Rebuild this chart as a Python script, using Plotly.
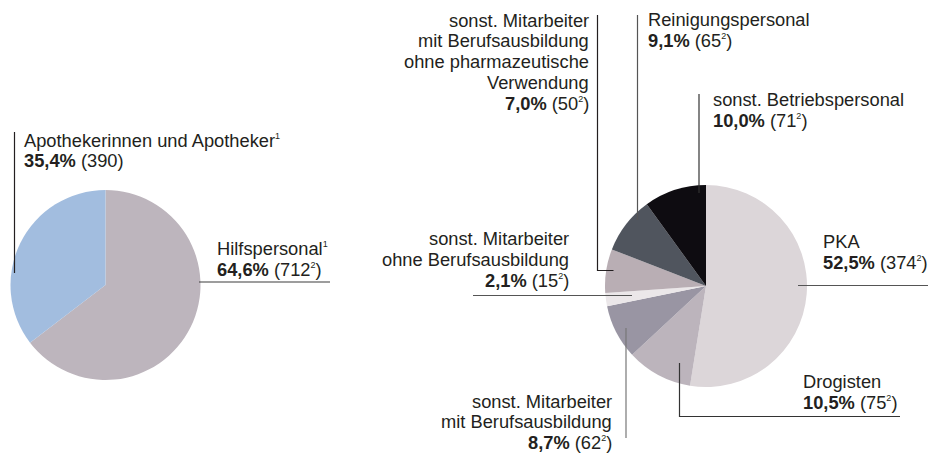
import plotly.graph_objects as go

W, H = 929, 453

# ---------------- data ----------------
left_labels = ["Hilfspersonal", "Apothekerinnen und Apotheker"]
left_values = [712, 390]
left_pct = ["64,6%", "35,4%"]
left_sup_label = ["1", "1"]
left_sup_count = ["2", ""]

right_labels = [
    "PKA",
    "Drogisten",
    "sonst. Mitarbeiter mit Berufsausbildung",
    "sonst. Mitarbeiter ohne Berufsausbildung",
    "sonst. Mitarbeiter mit Berufsausbildung ohne pharmazeutische Verwendung",
    "Reinigungspersonal",
    "sonst. Betriebspersonal",
]
right_values = [374, 75, 62, 15, 50, 65, 71]
right_pct = ["52,5%", "10,5%", "8,7%", "2,1%", "7,0%", "9,1%", "10,0%"]
right_label_lines = [
    ["PKA"],
    ["Drogisten"],
    ["sonst. Mitarbeiter", "mit Berufsausbildung"],
    ["sonst. Mitarbeiter", "ohne Berufsausbildung"],
    ["sonst. Mitarbeiter", "mit Berufsausbildung", "ohne pharmazeutische", "Verwendung"],
    ["Reinigungspersonal"],
    ["sonst. Betriebspersonal"],
]

# ---------------- styles ----------------
left_colors = ["#bdb5bd", "#a2bddf"]
right_colors = ["#dcd6d9", "#bcb4bc", "#9995a3", "#ebe7e9", "#b9aeb4", "#50555e", "#0e0c11"]
TXT = "#231f20"
FONT = "Liberation Sans, Arial, Helvetica, sans-serif"
FS = 18.3
LH = 20.8


def fx(x):
    return x / W


def fy(y):
    return 1 - y / H


def sup(s):
    return f"<sup><span style='font-size:9px'>{s}</span></sup>" if s else ""


fig = go.Figure()

fig.add_trace(go.Pie(
    labels=left_labels, values=left_values, sort=False, direction="clockwise",
    marker=dict(colors=left_colors, line=dict(width=0)), textinfo="none",
    domain=dict(x=[fx(10.5), fx(200.5)], y=[fy(380), fy(190)]),
    showlegend=False,
))
fig.add_trace(go.Pie(
    labels=right_labels, values=right_values, sort=False, direction="clockwise",
    marker=dict(colors=right_colors, line=dict(width=0)), textinfo="none",
    domain=dict(x=[fx(605), fx(807)], y=[fy(387), fy(185)]),
    showlegend=False,
))

annotations = []


def add_block(lines, x, first_baseline, align):
    for i, t in enumerate(lines):
        b = first_baseline + i * LH
        annotations.append(dict(
            text=t, x=fx(x), y=fy(b + 5), xref="paper", yref="paper",
            xanchor=align, yanchor="bottom", showarrow=False, align=align,
            font=dict(family=FONT, size=FS, color=TXT), borderpad=0,
        ))


def val_line(pct, count, s):
    return f"<b>{pct}</b> ({count}{sup(s)})"


# left pie labels
add_block([left_labels[1] + sup(left_sup_label[1]),
           val_line(left_pct[1], left_values[1], left_sup_count[1])], 22.5, 146.5, "left")
add_block([left_labels[0] + sup(left_sup_label[0]),
           val_line(left_pct[0], left_values[0], left_sup_count[0])], 216, 255, "left")

# right pie labels: (x, first baseline, align)
right_pos = [
    (821.5, 248.3, "left"),
    (801.5, 388.3, "left"),
    (612.5, 407.5, "right"),
    (569.5, 245.0, "right"),
    (590.0, 26.5, "right"),
    (646.5, 26.0, "left"),
    (711.5, 106.0, "left"),
]
for lines, pct, v, (x, b, al) in zip(right_label_lines, right_pct, right_values, right_pos):
    add_block(lines + [val_line(pct, v, "2")], x, b, al)

# leader lines (pixel coordinates)
leaders = [
    ([(14.5, 132), (14.5, 273)], "#231f20"),
    ([(199, 282), (330, 282)], "#3c3c3c"),
    ([(637.5, 15), (637.5, 220)], "#555555"),
    ([(699, 94), (699, 193)], "#333333"),
    ([(798, 285.5), (928, 285.5)], "#555555"),
    ([(679.5, 363), (679.5, 416.5), (900, 416.5)], "#333333"),
    ([(626, 328), (626, 438)], "#777777"),
    ([(473, 295.5), (632, 295.5)], "#555555"),
    ([(597.5, 15), (597.5, 270.5), (613.5, 270.5)], "#231f20"),
]
shapes = []
for pts, col in leaders:
    path = "M " + " L ".join(f"{fx(x)},{fy(y)}" for x, y in pts)
    shapes.append(dict(type="path", path=path, xref="paper", yref="paper",
                       line=dict(color=col, width=1.2)))

fig.update_layout(
    width=W, height=H, margin=dict(l=0, r=0, t=0, b=0),
    paper_bgcolor="white", plot_bgcolor="white",
    annotations=annotations, shapes=shapes, showlegend=False,
)

fig.write_html("out.html", config={"displayModeBar": False},
               post_script="document.body.style.margin='0px';document.body.style.overflow='hidden';")
